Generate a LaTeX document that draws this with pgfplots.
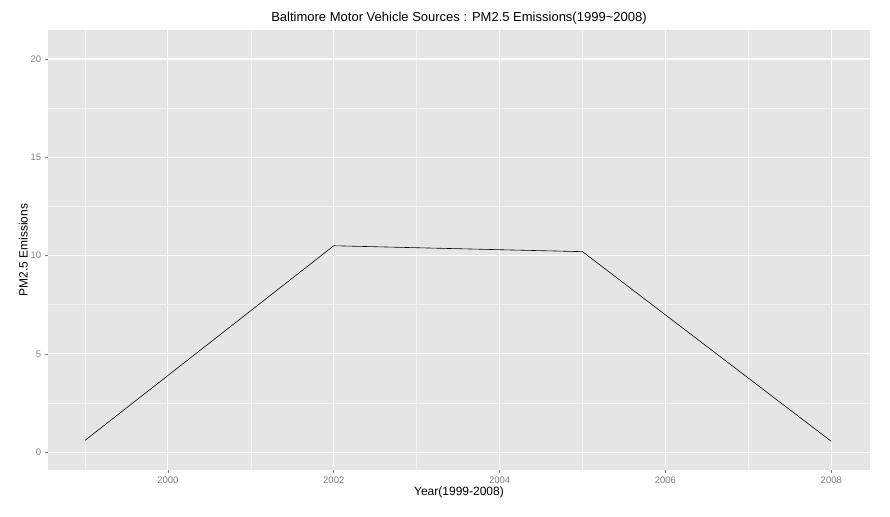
\documentclass[border=0pt]{standalone}
\usepackage{pgfplots}
\pgfplotsset{compat=1.18}
\usepackage{fontspec}
\setmainfont{Liberation Sans}
\definecolor{bg}{RGB}{229,229,229}
\definecolor{minorg}{RGB}{242,242,242}
\definecolor{tickg}{RGB}{127,127,127}
\begin{document}
\begin{tikzpicture}
\begin{axis}[
  scale only axis, width=822pt, height=440pt,
  xmin=1998.55, xmax=2008.47, ymin=-0.92, ymax=21.48,
  axis background/.style={fill=bg},
  axis line style={draw=none},
  xtick={2000,2002,2004,2006,2008},
  ytick={0,5,10,15,20},
  minor xtick={1999,2001,2003,2005,2007},
  minor ytick={2.5,7.5,12.5,17.5},
  xtick pos=bottom, ytick pos=left,
  grid=both,
  major grid style={white, line width=1.1pt},
  minor grid style={minorg, line width=0.5pt},
  major tick length=3pt, minor tick length=0pt,
  tick style={tickg, line width=0.6pt},
  tick align=outside,
  xticklabel style={font=\fontsize{9.5}{10}\selectfont, text=tickg},
  yticklabel style={font=\fontsize{9.5}{10}\selectfont, text=tickg},
  /pgf/number format/assume math mode=true,
  /pgf/number format/1000 sep={},
  title={Baltimore Motor Vehicle Sources : PM2.5 Emissions(1999\textasciitilde2008)},
  title style={font=\fontsize{13}{14}\selectfont, yshift=-4pt},
  xlabel={Year(1999-2008)},
  ylabel={PM2.5 Emissions},
  label style={font=\fontsize{12}{13}\selectfont},
  xlabel style={yshift=4pt},
  ylabel style={yshift=-4pt},
  clip=false,
]
\addplot[black, line width=0.6pt] coordinates {(1999,0.6) (2002,10.5) (2005,10.2) (2008,0.55)};
\path[use as bounding box] (rel axis cs:-0.058,-0.105) rectangle (rel axis cs:1.024,1.068);
\end{axis}
\end{tikzpicture}
\end{document}
